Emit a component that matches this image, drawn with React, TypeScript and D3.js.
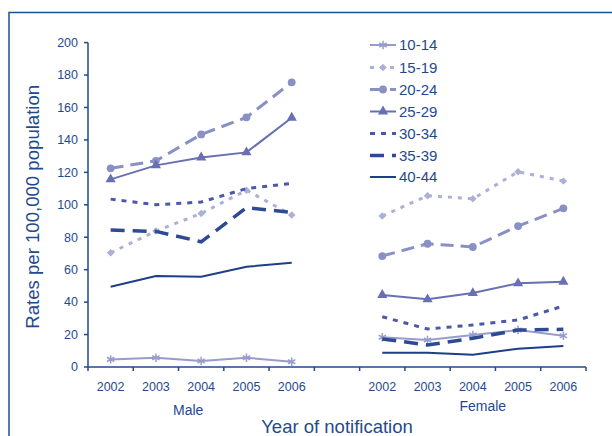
import React from "react";
import * as d3 from "d3";

const years = ["2002", "2003", "2004", "2005", "2006"];
const groups = ["Male", "Female"];
const categories = ["M2002", "M2003", "M2004", "M2005", "M2006", "gap", "F2002", "F2003", "F2004", "F2005", "F2006"];
const yTicks = [0, 20, 40, 60, 80, 100, 120, 140, 160, 180, 200];

const ageGroups = ["10-14", "15-19", "20-24", "25-29", "30-34", "35-39", "40-44"];
const male1014 = [4.7, 5.7, 3.7, 5.7, 3.3];
const female1014 = [18.3, 16.6, 19.7, 22.8, 19.3];
const male1519 = [70.4, 83.8, 94.7, 109, 93.7];
const female1519 = [93.1, 105.6, 103.7, 120.4, 114.6];
const male2024 = [122.5, 127.1, 143.4, 153.9, 175.5];
const female2024 = [68.4, 76, 74, 86.9, 97.8];
const male2529 = [115.7, 124.3, 129.2, 132.3, 153.7];
const female2529 = [44.4, 41.7, 45.6, 51.6, 52.6];
const male3034 = [103.5, 100, 101.7, 110, 113.2];
const female3034 = [31, 23.4, 25.9, 29, 37.6];
const male3539 = [84.4, 83.6, 77.2, 98.2, 95.3];
const female3539 = [17.3, 13.6, 17.7, 22.8, 23.2];
const male4044 = [49.5, 56.1, 55.7, 61.8, 64.3];
const female4044 = [8.8, 8.8, 7.6, 11.3, 12.9];

const maleSeries = [male1014, male1519, male2024, male2529, male3034, male3539, male4044];
const femaleSeries = [female1014, female1519, female2024, female2529, female3034, female3539, female4044];

const styles = [
  { color: "#979ccd", width: 2, dash: "", symbol: d3.symbolAsterisk, size: 50, stroke: true, rot: 0 },
  { color: "#aab0d8", width: 3, dash: "4,6", symbol: d3.symbolSquare, size: 28, stroke: false, rot: 45 },
  { color: "#8890c6", width: 3, dash: "13,7", symbol: d3.symbolCircle, size: 48, stroke: false, rot: 0 },
  { color: "#6870b2", width: 2, dash: "", symbol: d3.symbolTriangle, size: 45, stroke: false, rot: 0 },
  { color: "#4b58a6", width: 3, dash: "5,6", symbol: null, size: 0, stroke: false, rot: 0 },
  { color: "#2d4a92", width: 3.5, dash: "14,8", symbol: null, size: 0, stroke: false, rot: 0 },
  { color: "#1c3f87", width: 2, dash: "", symbol: null, size: 0, stroke: false, rot: 0 },
];

const TEXT = "#1f4a8e";
const FONT = "Arial, 'Liberation Sans', Helvetica, sans-serif";

export default function App() {
  const W = 612, H = 436;
  const x = d3.scaleBand<string>().domain(categories).range([88, 586]).padding(0);
  const y = d3.scaleLinear().domain([0, 200]).range([367, 42.6]);
  const cx = (k: string) => (x(k) as number) + x.bandwidth() / 2;
  const line = d3.line<[number, number]>().x((d) => d[0]).y((d) => d[1]);

  const boundaries = categories.map((c) => x(c) as number).concat([586]);

  const marker = (st: (typeof styles)[number], px: number, py: number, key?: number) => (
    <path
      key={key}
      transform={`translate(${px},${py}) rotate(${st.rot})`}
      d={d3.symbol().type(st.symbol as any).size(st.size)() || ""}
      fill={st.stroke ? "none" : st.color}
      stroke={st.color}
      strokeWidth={st.stroke ? 1.5 : 0}
    />
  );

  const renderSeries = (vals: number[], prefix: string, i: number) => {
    const st = styles[i];
    const pts: [number, number][] = vals.map((v, j) => [cx(prefix + years[j]), y(v)]);
    return (
      <g key={prefix + i}>
        <path d={line(pts) || ""} fill="none" stroke={st.color} strokeWidth={st.width} strokeDasharray={st.dash} />
        {st.symbol && pts.map((p, j) => marker(st, p[0], p[1], j))}
      </g>
    );
  };

  const legendY = [45, 67.5, 89.5, 111.5, 133.5, 155.5, 177];

  return (
    <div style={{ position: "absolute", left: 0, top: 0 }}>
      <svg width={W} height={H} style={{ display: "block", fontFamily: FONT }}>
        <rect width={W} height={H} fill="#fff" />
        <path d={`M9,${H} L9,12.5 L${W},12.5`} fill="none" stroke="#1f4e96" strokeWidth={1.5} />

        {/* y axis */}
        <line x1={88} x2={88} y1={y(200)} y2={y(0)} stroke={TEXT} strokeWidth={1.5} />
        {yTicks.map((t) => (
          <g key={t}>
            <line x1={84} x2={88} y1={y(t)} y2={y(t)} stroke={TEXT} strokeWidth={1.5} />
            <text x={78} y={y(t)} dy="0.35em" textAnchor="end" fontSize={12.5} fill={TEXT}>
              {t}
            </text>
          </g>
        ))}
        <text
          transform={`translate(39,${(y(0) + y(200)) / 2 + 2}) rotate(-90)`}
          textAnchor="middle"
          fontSize={18.6}
          fill={TEXT}
        >
          Rates per 100,000 population
        </text>

        {/* x axis */}
        <line x1={88} x2={586} y1={y(0)} y2={y(0)} stroke={TEXT} strokeWidth={1.5} />
        {boundaries.map((b, i) => (
          <line key={i} x1={b} x2={b} y1={y(0)} y2={y(0) + 4} stroke={TEXT} strokeWidth={1.5} />
        ))}
        {groups.map((g) =>
          years.map((yr) => (
            <text key={g + yr} x={cx(g[0] + yr)} y={391} textAnchor="middle" fontSize={12.5} fill={TEXT}>
              {yr}
            </text>
          ))
        )}
        <text x={(cx("M2002") + cx("M2006")) / 2 - 13} y={415} textAnchor="middle" fontSize={14} fill={TEXT}>
          {groups[0]}
        </text>
        <text x={(cx("F2002") + cx("F2006")) / 2 + 10} y={411} textAnchor="middle" fontSize={14} fill={TEXT}>
          {groups[1]}
        </text>
        <text x={337} y={433} textAnchor="middle" fontSize={18.5} fill={TEXT}>
          Year of notification
        </text>

        {/* series */}
        {maleSeries.map((s, i) => renderSeries(s, "M", i))}
        {femaleSeries.map((s, i) => renderSeries(s, "F", i))}

        {/* legend */}
        {ageGroups.map((a, i) => {
          const st = styles[i];
          const ly = legendY[i];
          return (
            <g key={a}>
              <line x1={370} x2={396} y1={ly} y2={ly} stroke={st.color} strokeWidth={st.width} strokeDasharray={st.dash} />
              {st.symbol && marker(st, 383, ly)}
              <text x={399} y={ly} dy="0.36em" fontSize={15} fill={TEXT}>
                {a}
              </text>
            </g>
          );
        })}
      </svg>
    </div>
  );
}
